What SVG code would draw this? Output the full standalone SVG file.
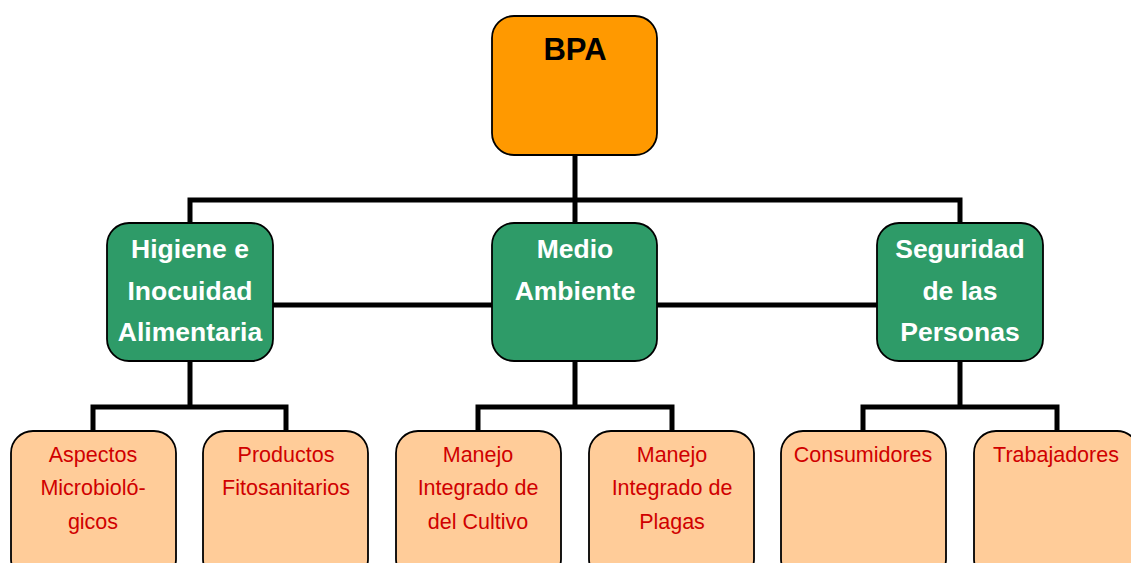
<svg xmlns="http://www.w3.org/2000/svg" width="1131" height="563" viewBox="0 0 1131 563">
<style>
.ln{fill:none;stroke:#000;stroke-width:5;stroke-linejoin:miter;stroke-linecap:butt}
.top{fill:#ff9900;stroke:#000;stroke-width:1.8}
.mid{fill:#2e9b68;stroke:#000;stroke-width:1.8}
.bot{fill:#ffcc99;stroke:#000;stroke-width:1.8}
.t1{font-family:"Liberation Sans",Arial,sans-serif;font-weight:bold;font-size:31px;fill:#000;text-anchor:middle}
.t2{font-family:"Liberation Sans",Arial,sans-serif;font-weight:bold;font-size:26.5px;fill:#fff;text-anchor:middle}
.t3{font-family:"Liberation Sans",Arial,sans-serif;font-size:21.5px;fill:#d00000;text-anchor:middle}
</style>
<rect width="1131" height="563" fill="#fff"/>
<g id="connectors">
<path class="ln" d="M575 155V223"/>
<path class="ln" d="M190 223V200H960V223"/>
<path class="ln" d="M273 305H492M657 305H877"/>
<path class="ln" d="M190 360V407M93 431V407H286V431"/>
<path class="ln" d="M575 360V407M478 431V407H672V431"/>
<path class="ln" d="M960 360V407M863 431V407H1057V431"/>
</g>
<g id="bpa">
<rect class="top" x="492" y="16" width="165" height="139" rx="22"/>
<text class="t1" x="575" y="60">BPA</text>
</g>
<g id="higiene">
<rect class="mid" x="107" y="223" width="166" height="138" rx="22"/>
<text class="t2" x="190" y="258">Higiene e</text>
<text class="t2" x="190" y="300">Inocuidad</text>
<text class="t2" x="190" y="341">Alimentaria</text>
</g>
<g id="medio">
<rect class="mid" x="492" y="223" width="165" height="138" rx="22"/>
<text class="t2" x="575" y="258">Medio</text>
<text class="t2" x="575" y="300">Ambiente</text>
</g>
<g id="seguridad">
<rect class="mid" x="877" y="223" width="166" height="138" rx="22"/>
<text class="t2" x="960" y="258">Seguridad</text>
<text class="t2" x="960" y="300">de las</text>
<text class="t2" x="960" y="341">Personas</text>
</g>
<g id="aspectos">
<rect class="bot" x="11" y="431" width="165" height="150" rx="22"/>
<text class="t3" x="93" y="462">Aspectos</text>
<text class="t3" x="93" y="495">Microbioló-</text>
<text class="t3" x="93" y="529">gicos</text>
</g>
<g id="productos">
<rect class="bot" x="203" y="431" width="165" height="150" rx="22"/>
<text class="t3" x="286" y="462">Productos</text>
<text class="t3" x="286" y="495">Fitosanitarios</text>
</g>
<g id="manejo-cultivo">
<rect class="bot" x="396" y="431" width="165" height="150" rx="22"/>
<text class="t3" x="478" y="462">Manejo</text>
<text class="t3" x="478" y="495">Integrado de</text>
<text class="t3" x="478" y="529">del Cultivo</text>
</g>
<g id="manejo-plagas">
<rect class="bot" x="589" y="431" width="165" height="150" rx="22"/>
<text class="t3" x="672" y="462">Manejo</text>
<text class="t3" x="672" y="495">Integrado de</text>
<text class="t3" x="672" y="529">Plagas</text>
</g>
<g id="consumidores">
<rect class="bot" x="781" y="431" width="165" height="150" rx="22"/>
<text class="t3" x="863" y="462">Consumidores</text>
</g>
<g id="trabajadores">
<rect class="bot" x="974" y="431" width="165" height="150" rx="22"/>
<text class="t3" x="1056" y="462">Trabajadores</text>
</g>
</svg>
